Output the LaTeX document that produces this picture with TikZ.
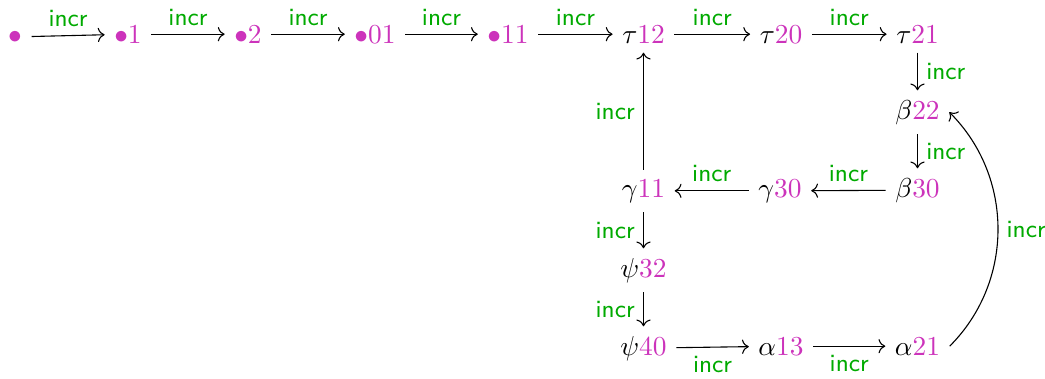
\documentclass[tikz,border=0pt]{standalone}
\usetikzlibrary{arrows.meta}
\definecolor{mag}{RGB}{204,51,187}
\definecolor{grn}{RGB}{0,170,0}
\begin{document}
\begin{tikzpicture}[x=0.365pt,y=-0.365pt,
  obj/.style={anchor=base, inner sep=3.33pt},
  arr/.style={-{Computer Modern Rightarrow}, line width=0.4pt},
  lab/.style={font=\sffamily\small, text=grn, inner sep=3pt}]
\useasboundingbox (0,0) rectangle (1045,378);
\node[obj] (n0) at (15,43) {$\color{mag}\bullet$};
\node[obj] (n1) at (128,43) {$\color{mag}\bullet1$};
\node[obj] (n2) at (248,43) {$\color{mag}\bullet2$};
\node[obj] (n3) at (375,43) {$\color{mag}\bullet01$};
\node[obj] (n4) at (508,43) {$\color{mag}\bullet11$};
\node[obj] (t12) at (643.5,43) {$\tau{\color{mag}12}$};
\node[obj] (t20) at (781,43) {$\tau{\color{mag}20}$};
\node[obj] (t21) at (917.5,43) {$\tau{\color{mag}21}$};
\node[obj] (b22) at (917.5,119) {$\beta{\color{mag}22}$};
\node[obj] (b30) at (917.5,197) {$\beta{\color{mag}30}$};
\node[obj] (g30) at (780,197) {$\gamma{\color{mag}30}$};
\node[obj] (g11) at (643.5,197) {$\gamma{\color{mag}11}$};
\node[obj] (p32) at (643.5,277) {$\psi{\color{mag}32}$};
\node[obj] (p40) at (643.5,355) {$\psi{\color{mag}40}$};
\node[obj] (a13) at (781,355) {$\alpha{\color{mag}13}$};
\node[obj] (a21) at (917.5,355) {$\alpha{\color{mag}21}$};
\draw[arr] (n0) -- node[lab,above] {incr} (n1);
\draw[arr] (n1) -- node[lab,above] {incr} (n2);
\draw[arr] (n2) -- node[lab,above] {incr} (n3);
\draw[arr] (n3) -- node[lab,above] {incr} (n4);
\draw[arr] (n4) -- node[lab,above] {incr} (t12);
\draw[arr] (t12) -- node[lab,above] {incr} (t20);
\draw[arr] (t20) -- node[lab,above] {incr} (t21);
\draw[arr] (t21) -- node[lab,right] {incr} (b22);
\draw[arr] (b22) -- node[lab,right] {incr} (b30);
\draw[arr] (b30) -- node[lab,above] {incr} (g30);
\draw[arr] (g30) -- node[lab,above] {incr} (g11);
\draw[arr] (g11) -- node[lab,left] {incr} (t12);
\draw[arr] (g11) -- node[lab,left] {incr} (p32);
\draw[arr] (p32) -- node[lab,left] {incr} (p40);
\draw[arr] (p40) -- node[lab,below] {incr} (a13);
\draw[arr] (a13) -- node[lab,below] {incr} (a21);
\draw[arr] (a21.east) to[out=45,in=-45] node[lab,right] {incr} (b22.east);
\end{tikzpicture}
\end{document}
